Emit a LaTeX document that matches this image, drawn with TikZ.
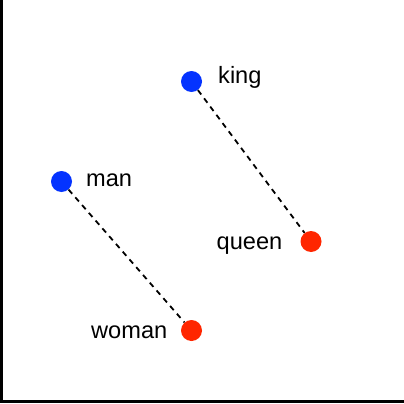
\documentclass[tikz,border=0pt]{standalone}
\usepackage{fontspec}
\setmainfont{Liberation Sans}
\begin{document}
\begin{tikzpicture}[x=1pt,y=-1pt,
  blue dot/.style={circle,fill={rgb,255:red,4;green,51;blue,255},minimum size=21pt,inner sep=0pt},
  red dot/.style={circle,fill={rgb,255:red,255;green,38;blue,0},minimum size=21pt,inner sep=0pt},
  word/.style={anchor=base west,inner sep=0pt,font=\fontsize{23.6}{28}\selectfont},
  link/.style={dash pattern=on 5.5pt off 4.8pt,line width=1.8pt},
  axis/.style={line width=3pt}]
\useasboundingbox (0,0) rectangle (404,404);
\coordinate (top) at (1.5,0);
\coordinate (origin) at (1.5,401.5);
\coordinate (right) at (404,401.5);
\draw[axis] (top) -- (origin) -- (right);
\node[blue dot] (king) at (191.5,81.5) {};
\node[blue dot] (man) at (61.5,181.5) {};
\node[red dot] (queen) at (311,241.5) {};
\node[red dot] (woman) at (191.5,330.5) {};
\draw[link] (king) -- (queen);
\draw[link] (man) -- (woman);
\node[word] (kinglabel) at (218,84) {king};
\node[word] (manlabel) at (86,186.5) {man};
\node[word] (queenlabel) at (216.5,249.5) {queen};
\node[word] (womanlabel) at (91,338.5) {woman};
\end{tikzpicture}
\end{document}
